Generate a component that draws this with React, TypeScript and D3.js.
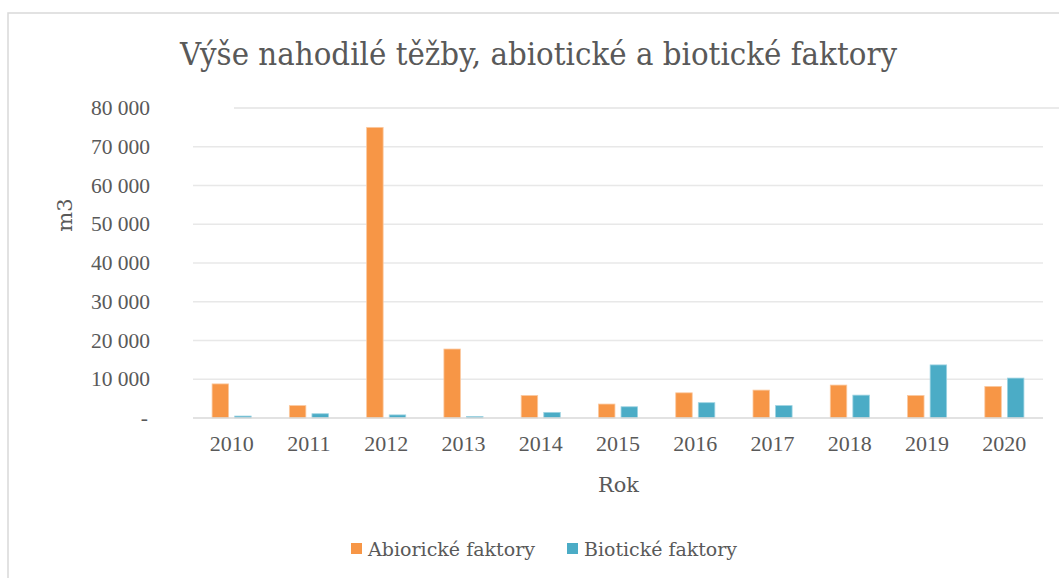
import React from "react";
import * as d3 from "d3";

const years = ["2010", "2011", "2012", "2013", "2014", "2015", "2016", "2017", "2018", "2019", "2020"];
const abiotic = [8800, 3200, 75000, 17800, 5800, 3600, 6500, 7200, 8500, 5800, 8150];
const biotic = [500, 1100, 800, 400, 1450, 2900, 3950, 3200, 5900, 13700, 10300];
const yTicks = [0, 10000, 20000, 30000, 40000, 50000, 60000, 70000, 80000];
const seriesNames = ["Abiorické faktory", "Biotické faktory"];
const colors = ["#F79646", "#4BACC6"];
const strokes = ["#FBC9A0", "#9DD3E2"];

const W = 1059, H = 578;
const left = 193, right = 1043, top = 108, bottom = 418;
const font = "DejaVu Serif";
const numFont = "Liberation Serif";
const textColor = "#595959";

export default function App() {
  const x = d3.scaleBand<string>().domain(years).range([left, right]).padding(0);
  const y = d3.scaleLinear().domain([0, 80000]).range([bottom, top]);
  const bw = 16.5;
  const off = 11.3;
  const fmt = (v: number) => (v === 0 ? "-" : d3.format(",")(v).replace(/,/g, " "));
  const series = [abiotic, biotic];
  return (
    <svg width={W} height={H} style={{ position: "absolute", left: 0, top: 0, background: "#fff" }}>
      <rect x={8} y={13} width={1200} height={700} fill="#fff" stroke="#d9d9d9" strokeWidth={1.5} />
      <text x={180} y={65} textLength={717} lengthAdjust="spacingAndGlyphs" style={{ fontFamily: font }} fontSize={32} fill={textColor}>
        Výše nahodilé těžby, abiotické a biotické faktory
      </text>
      {yTicks.filter((t) => t > 0).map((t) =>
        t === 80000 ? (
          <line key={t} x1={234} x2={W} y1={y(t)} y2={y(t)} stroke="#e3e3e3" strokeWidth={1.5} />
        ) : (
          <line key={t} x1={left} x2={right} y1={y(t)} y2={y(t)} stroke="#e8e8e8" strokeWidth={1.5} />
        )
      )}
      {series.map((vals, si) =>
        vals.map((v, i) => {
          const cx = (x(years[i]) as number) + x.bandwidth() / 2 + (si === 0 ? -off : off);
          return (
            <rect key={si + "-" + i} x={cx - bw / 2} y={y(v)} width={bw} height={bottom - y(v)}
              fill={colors[si]} stroke={strokes[si]} strokeWidth={0.8} />
          );
        })
      )}
      <line x1={left} x2={right} y1={bottom} y2={bottom} stroke="#d9d9d9" strokeWidth={1.5} />
      {yTicks.map((t) => (
        <text key={t} x={t === 0 ? 148 : 150} y={y(t) + 7} textAnchor="end" style={{ fontFamily: numFont }} fontSize={21.5} fill={textColor}>
          {fmt(t)}
        </text>
      ))}
      {years.map((yr) => (
        <text key={yr} x={(x(yr) as number) + x.bandwidth() / 2} y={451} textAnchor="middle" style={{ fontFamily: numFont }} fontSize={22} fill={textColor}>
          {yr}
        </text>
      ))}
      <text x={598} y={492} textLength={41} lengthAdjust="spacingAndGlyphs" style={{ fontFamily: font }} fontSize={21} fill={textColor}>Rok</text>
      <text transform="translate(72,215) rotate(-90)" textAnchor="middle" style={{ fontFamily: font }} fontSize={21} fill={textColor}>m3</text>
      {seriesNames.map((n, i) => {
        const lx = i === 0 ? 351 : 567;
        const len = i === 0 ? 167 : 153;
        return (
          <g key={n}>
            <rect x={lx} y={543} width={11} height={11} fill={colors[i]} />
            <text x={lx + 17} y={556} textLength={len} lengthAdjust="spacingAndGlyphs" style={{ fontFamily: font }} fontSize={19} fill={textColor}>{n}</text>
          </g>
        );
      })}
    </svg>
  );
}
